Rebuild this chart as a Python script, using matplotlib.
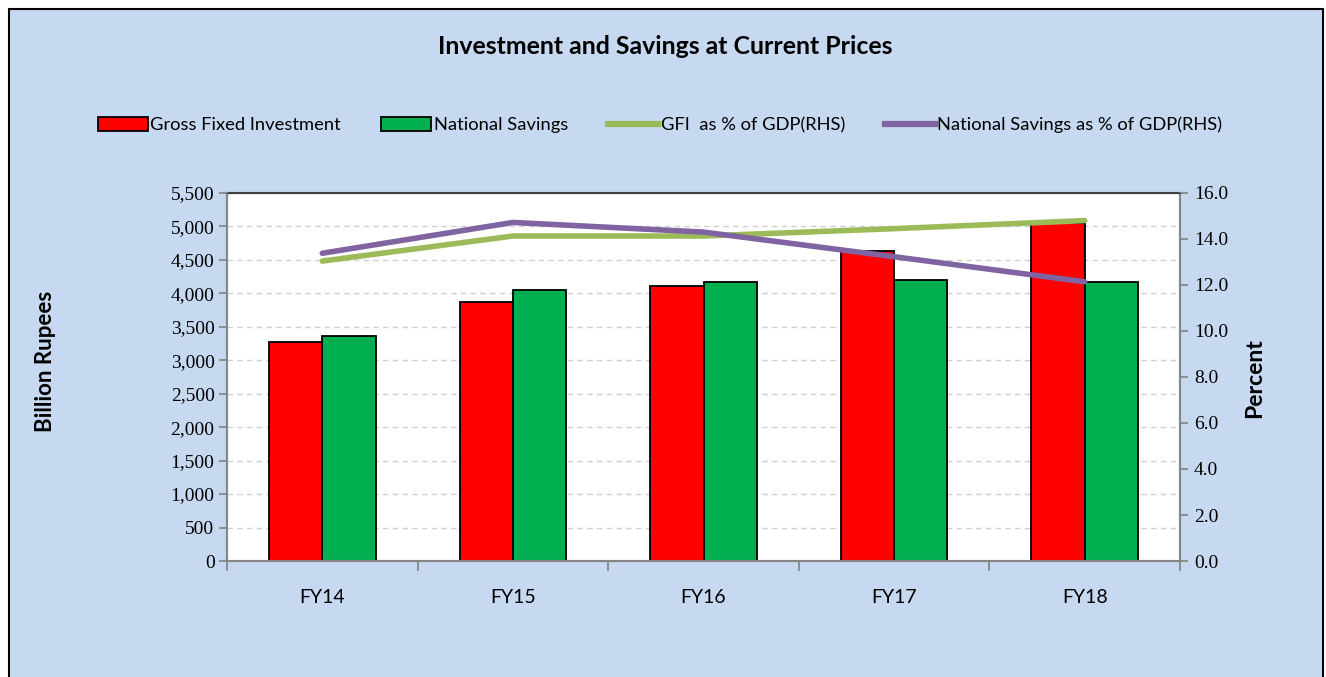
"""Investment and savings at current prices: bars on the left axis, ratios on the right."""

from matplotlib import pyplot as plt
from matplotlib.lines import Line2D
from matplotlib.patches import Patch, Rectangle
from matplotlib.ticker import FuncFormatter
import numpy as np

years = ["FY14", "FY15", "FY16", "FY17", "FY18"]
gross_fixed_investment = [3268, 3871, 4110, 4633, 5056]
national_savings = [3363, 4050, 4170, 4200, 4165]
gfi_pct_gdp = [13.04, 14.13, 14.13, 14.45, 14.80]
savings_pct_gdp = [13.38, 14.72, 14.30, 13.23, 12.14]

W, H = 1326, 677
BG = "#C6D9F0"
SANS = "Lato"
SERIF = "Liberation Serif"

fig = plt.figure(figsize=(W / 100, H / 100), dpi=100, facecolor="white")

# light blue chart area with black frame
fig.patches.append(
    Rectangle(
        (9 / W, -0.05), (1323 - 9) / W, 1 - 9 / H + 0.05,
        transform=fig.transFigure, facecolor=BG, edgecolor="black", lw=1.5, zorder=-1,
    )
)

left, right, top, bottom = 227 / W, 1180 / W, 1 - 193 / H, 1 - 561 / H
ax = fig.add_axes([left, bottom, right - left, top - bottom])
ax.set_facecolor("white")

x = np.arange(len(years))
bw = 0.28
ax.bar(x - bw / 2, gross_fixed_investment, bw, color="#FF0000", edgecolor="black", lw=1.3, zorder=2)
ax.bar(x + bw / 2, national_savings, bw, color="#00B050", edgecolor="black", lw=1.3, zorder=2)

ax.set_xlim(-0.5, len(years) - 0.5)
ax.set_ylim(0, 5500)
ax.set_yticks(np.arange(0, 5501, 500))
ax.yaxis.set_major_formatter(FuncFormatter(lambda v, _: f"{v:,.0f}"))
ax.grid(axis="y", color="#D0D0D0", ls=(0, (4, 3)), lw=1.0)
ax.set_axisbelow(True)

# tick marks at category boundaries, labels at centres
ax.set_xticks(np.arange(-0.5, len(years), 1.0))
ax.set_xticklabels([])
ax.set_xticks(x, minor=True)
ax.set_xticklabels(years, minor=True, fontsize=14, family=SANS)
ax.tick_params(axis="x", which="major", length=7, color="#868686", width=1.3, direction="out")
ax.tick_params(axis="x", which="minor", length=0, pad=20)
ax.tick_params(axis="y", length=6, color="#868686", width=1.3, labelsize=14, pad=3)
for t in ax.get_yticklabels():
    t.set_family(SERIF)

for side in ["left", "bottom", "right"]:
    ax.spines[side].set_color("#868686")
    ax.spines[side].set_linewidth(1.5)
ax.spines["top"].set_color("#404040")
ax.spines["top"].set_linewidth(1.5)

ax2 = ax.twinx()
ax2.plot(x, gfi_pct_gdp, color="#9BBB59", lw=4, solid_capstyle="round")
ax2.plot(x, savings_pct_gdp, color="#8064A2", lw=4, solid_capstyle="round")
ax2.set_ylim(0, 16)
ax2.set_yticks(np.arange(0, 16.1, 2))
ax2.yaxis.set_major_formatter(FuncFormatter(lambda v, _: f"{v:.1f}"))
ax2.tick_params(axis="y", length=6, color="#868686", width=1.3, labelsize=14, pad=4)
for t in ax2.get_yticklabels():
    t.set_family(SERIF)
for side in ["left", "bottom", "right"]:
    ax2.spines[side].set_color("#868686")
    ax2.spines[side].set_linewidth(1.5)
ax2.spines["top"].set_color("#404040")

fig.text(0.5015, 1 - 47 / H, "Investment and Savings at Current Prices",
         ha="center", va="center", fontsize=17.9, fontweight="bold", family=SANS)
fig.text(45 / W, 1 - 361.5 / H, "Billion Rupees", rotation=90, ha="center", va="center",
         fontsize=16, fontweight="bold", family=SANS)
fig.text(1255 / W, 1 - 378 / H, "Percent", rotation=90, ha="center", va="center",
         fontsize=16.5, fontweight="bold", family=SANS)

handles = [
    Patch(facecolor="#FF0000", edgecolor="black", lw=1.3),
    Patch(facecolor="#00B050", edgecolor="black", lw=1.3),
    Line2D([], [], color="#9BBB59", lw=4.5),
    Line2D([], [], color="#8064A2", lw=4.5),
]
labels = ["Gross Fixed Investment", "National Savings", "GFI  as % of GDP(RHS)",
          "National Savings as % of GDP(RHS)"]
fig.legend(handles, labels, loc="center", bbox_to_anchor=(0.498, 1 - 125 / H), ncol=4,
           frameon=False, prop={"family": SANS, "size": 13.2}, handlelength=2.7,
           handleheight=0.8, handletextpad=0.15, columnspacing=2.2)

fig.savefig("out.png", dpi=100, facecolor="white")
